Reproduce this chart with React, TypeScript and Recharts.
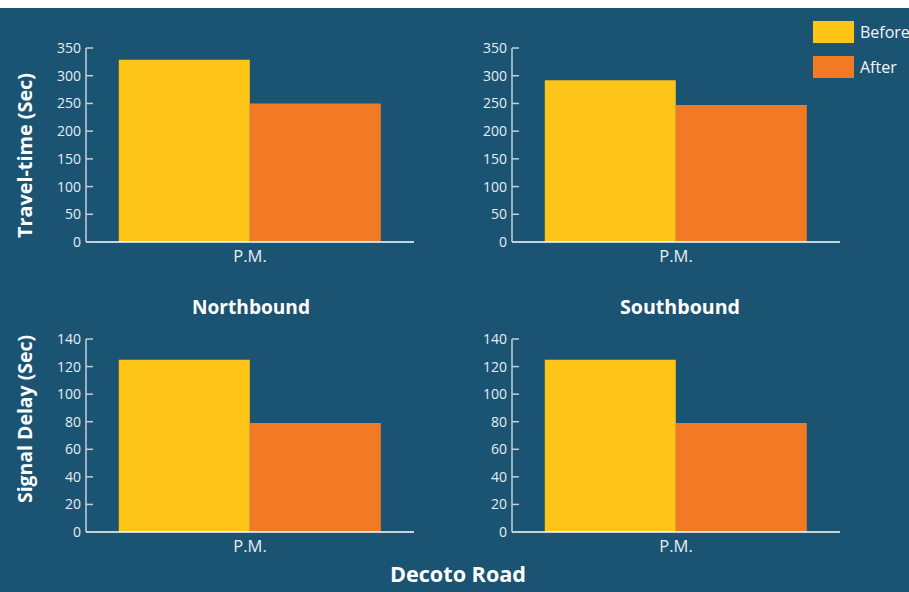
import React from 'react';
import { BarChart, Bar, XAxis, YAxis } from 'recharts';

// Decoto Road before/after comparison, P.M. peak
const periods = ['P.M.'];
const seriesNames = ['Before', 'After'];
const travelTimeNorth = [329, 250];
const travelTimeSouth = [292, 247];
const signalDelayNorth = [125, 79];
const signalDelaySouth = [125, 79];
const travelTicks = [0, 50, 100, 150, 200, 250, 300, 350];
const delayTicks = [0, 20, 40, 60, 80, 100, 120, 140];

const BG = '#1b5473';
const BEFORE = '#fec418';
const AFTER = '#f37a25';
const FONT = '"Open Sans", "Noto Sans", sans-serif';

const buildRows = (values: number[]) =>
  periods.map((p) => ({ period: p, [seriesNames[0]]: values[0], [seriesNames[1]]: values[1] }));

const YTick = (props: any) => {
  const { x, y, payload } = props;
  return (
    <g>
      <line x1={x} x2={x + 7} y1={y} y2={y} stroke="#c3d0da" strokeWidth={1.5} />
      <text x={x - 5} y={y + 5} textAnchor="end" fill="#e6edf2" fontSize={14} fontFamily={FONT}>
        {payload.value}
      </text>
    </g>
  );
};

const XTick = (props: any) => {
  const { x, y, payload } = props;
  return (
    <text x={x} y={y + 20} textAnchor="middle" fill="#e6edf2" fontSize={16.5} fontFamily={FONT}>
      {payload.value}
    </text>
  );
};

type PanelProps = {
  values: number[];
  ticks: number[];
  left: number;
  top: number;
  height: number;
};

const Panel = ({ values, ticks, left, top, height }: PanelProps) => (
  <div style={{ position: 'absolute', left, top }}>
    <BarChart
      width={420}
      height={height}
      data={buildRows(values)}
      margin={{ top: 40, right: 6, left: 0, bottom: 0 }}
      barCategoryGap="10%"
      barGap={0}
    >
      <XAxis
        dataKey="period"
        height={24}
        tickSize={0}
        tickMargin={0}
        tickLine={false}
        axisLine={{ stroke: '#ffffff', strokeWidth: 1.5 }}
        tick={(p: any) => <XTick {...p} />}
      />
      <YAxis
        width={86}
        domain={[ticks[0], ticks[ticks.length - 1]]}
        ticks={ticks}
        interval={0}
        tickSize={0}
        tickMargin={0}
        tickLine={false}
        axisLine={{ stroke: '#c3d0da', strokeWidth: 1.5 }}
        tick={(p: any) => <YTick {...p} />}
      />
      <Bar dataKey={seriesNames[0]} fill={BEFORE} isAnimationActive={false} />
      <Bar dataKey={seriesNames[1]} fill={AFTER} isAnimationActive={false} />
    </BarChart>
  </div>
);

export default function App() {
  return (
    <div
      style={{
        position: 'absolute',
        left: 0,
        top: 8,
        width: 909,
        height: 584,
        background: BG,
        overflow: 'hidden',
        fontFamily: FONT,
      }}
    >
      <Panel values={travelTimeNorth} ticks={travelTicks} left={0} top={0} height={258} />
      <Panel values={travelTimeSouth} ticks={travelTicks} left={426} top={0} height={258} />
      <Panel values={signalDelayNorth} ticks={delayTicks} left={0} top={291} height={257} />
      <Panel values={signalDelaySouth} ticks={delayTicks} left={426} top={291} height={257} />

      <svg
        width={909}
        height={584}
        style={{ position: 'absolute', left: 0, top: 0, pointerEvents: 'none' }}
      >
        <g fontFamily={FONT} fill="#ffffff" fontWeight={700}>
          <text x={251} y={306} fontSize={20} textAnchor="middle" textLength={118} lengthAdjust="spacingAndGlyphs">
            Northbound
          </text>
          <text x={680} y={306} fontSize={20} textAnchor="middle" textLength={120} lengthAdjust="spacingAndGlyphs">
            Southbound
          </text>
          <text x={458} y={573.5} fontSize={22} textAnchor="middle" textLength={136} lengthAdjust="spacingAndGlyphs">
            Decoto Road
          </text>
          <text
            transform="translate(31.5,147.5) rotate(-90)"
            fontSize={19}
            textAnchor="middle"
            textLength={165}
            lengthAdjust="spacingAndGlyphs"
          >
            Travel-time (Sec)
          </text>
          <text
            transform="translate(31.5,411) rotate(-90)"
            fontSize={19}
            textAnchor="middle"
            textLength={168}
            lengthAdjust="spacingAndGlyphs"
          >
            Signal Delay (Sec)
          </text>
        </g>
        <g fontFamily={FONT} fontSize={16} fill="#f2f5f7">
          <rect x={813} y={13} width={41} height={22} fill={BEFORE} />
          <text x={860} y={30}>{seriesNames[0]}</text>
          <rect x={813} y={48} width={41} height={22} fill={AFTER} />
          <text x={860} y={65}>{seriesNames[1]}</text>
        </g>
      </svg>
    </div>
  );
}
